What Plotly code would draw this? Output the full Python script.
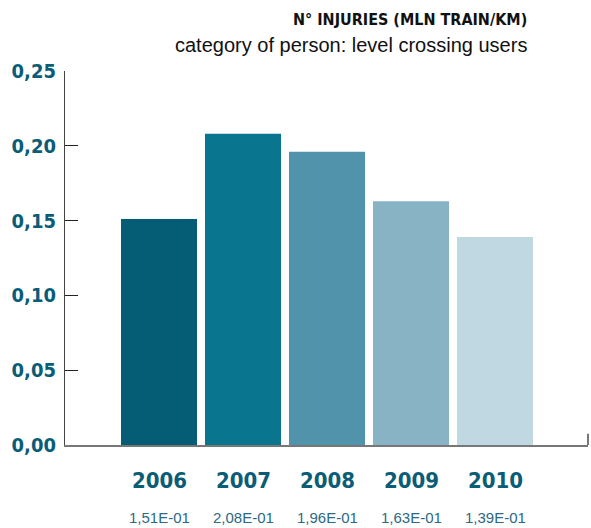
import plotly.graph_objects as go

years = ["2006", "2007", "2008", "2009", "2010"]
injuries = [0.151, 0.208, 0.196, 0.163, 0.139]
value_labels = ["1,51E-01", "2,08E-01", "1,96E-01", "1,63E-01", "1,39E-01"]
bar_colors = ["#045d74", "#0a758f", "#5193aa", "#87b3c4", "#bfd8e2"]
y_ticks = [0, 0.05, 0.10, 0.15, 0.20, 0.25]

COND = "DejaVu Sans Condensed, DejaVu Sans, sans-serif"
SANS = "Liberation Sans, Arial, sans-serif"
TEAL = "#0b5d77"

xpos = list(range(len(years)))

fig = go.Figure(go.Bar(
    x=xpos, y=injuries, marker=dict(color=bar_colors, line=dict(width=0)),
    width=0.905, hoverinfo="skip",
))

annotations = []
for i, (yr, lab) in enumerate(zip(years, value_labels)):
    annotations.append(dict(x=i, y=0, xref="x", yref="paper", text=yr,
                            showarrow=False, yanchor="middle", yshift=-35,
                            font=dict(family=COND, size=22, weight="bold", color=TEAL)))
    annotations.append(dict(x=i, y=0, xref="x", yref="paper", text=lab,
                            showarrow=False, yanchor="middle", yshift=-72,
                            font=dict(family=SANS, size=15, color="#2a6a84")))

annotations.append(dict(x=0.887, y=1, xref="paper", yref="paper", xanchor="right",
                        yanchor="middle", yshift=52, showarrow=False,
                        text="N° INJURIES (MLN TRAIN/KM)",
                        font=dict(family=COND, size=16, weight="bold", color="#111111")))
annotations.append(dict(x=0.887, y=1, xref="paper", yref="paper", xanchor="right",
                        yanchor="middle", yshift=26, showarrow=False,
                        text="category of person: level crossing users",
                        font=dict(family=SANS, size=20, color="#111111")))

fig.update_layout(
    width=591, height=528,
    margin=dict(l=65, r=3, t=71, b=83, autoexpand=False),
    paper_bgcolor="white", plot_bgcolor="white",
    separators=",.",
    showlegend=False,
    annotations=annotations,
    xaxis=dict(range=[-1.119, 5.107], showticklabels=False, ticks="",
               showgrid=False, zeroline=False, showline=True, automargin=False,
               linecolor="#777777", linewidth=2, fixedrange=True),
    yaxis=dict(range=[0, 0.25], tickvals=y_ticks, tickformat=".2f",
               ticks="inside", ticklen=13, tickcolor="#222222", tickwidth=1,
               showgrid=False, zeroline=False, showline=True, automargin=False,
               linecolor="#444444", linewidth=1, ticklabelstandoff=4,
               tickfont=dict(family=COND, size=20, weight="bold", color=TEAL),
               fixedrange=True),
    shapes=[dict(type="line", xref="paper", yref="paper", x0=1, x1=1,
                 y0=0, y1=0.03, line=dict(color="#777777", width=2))],
)

fig.write_html("out.html")
